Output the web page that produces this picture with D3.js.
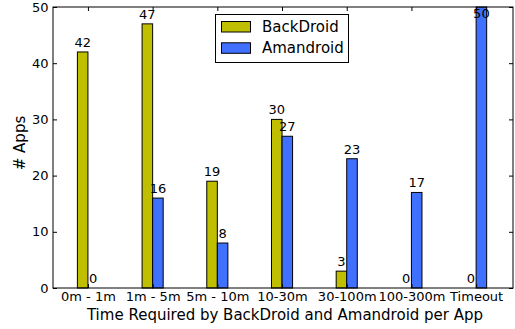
<!DOCTYPE html>
<html><head><meta charset="utf-8">
<script src="https://cdn.jsdelivr.net/npm/d3@7"></script>
<style>body{margin:0;background:#fff}text{font-family:"DejaVu Sans",sans-serif;fill:#000}</style>
</head><body><svg id="c" width="515" height="329"></svg>
<script>
const categories = ["0m - 1m","1m - 5m","5m - 10m","10-30m","30-100m","100-300m","Timeout"];
const backdroid = [42,47,19,30,3,0,0];
const amandroid = [0,16,8,27,23,17,50];
const yTicks = [0,10,20,30,40,50];
const seriesNames = ["BackDroid","Amandroid"];
const colors = ["#bfbf00","#4070ff"];

const svg = d3.select("#c");
const L=53,R=513,T=7,B=288;
const x = d3.scaleLinear().domain([-0.54,6.57]).range([L,R]);
const y = d3.scaleLinear().domain([0,50]).range([B,T]);
const w = 0.163;
const fs = 13, fsT = 15;

const g = svg.append("g");
[backdroid, amandroid].forEach((vals,si)=>{
  vals.forEach((v,i)=>{
    const x0 = si===0 ? x(i-w) : x(i);
    const x1 = si===0 ? x(i) : x(i+w);
    g.append("rect").attr("x",x0).attr("y",y(v)).attr("width",x1-x0).attr("height",B-y(v))
      .attr("fill",colors[si]).attr("stroke","#000").attr("stroke-width",1);
    const cx = (x0+x1)/2;
    const by = Math.max(y(v)-5, y(50)+11);
    g.append("text").attr("x",cx).attr("y",by).attr("text-anchor","middle").attr("font-size",fs).text(v);
  });
});

// frame
svg.append("rect").attr("x",L).attr("y",T).attr("width",R-L).attr("height",B-T).attr("fill","none").attr("stroke","#000").attr("stroke-width",1);

// ticks
const xa = d3.axisBottom(x).tickValues(d3.range(categories.length)).tickFormat(i=>categories[i]).tickSizeInner(-4).tickSizeOuter(0).tickPadding(4);
const xg = svg.append("g").attr("transform",`translate(0,${B})`).call(xa);
xg.select(".domain").remove();
xg.selectAll("text").attr("font-size",fs).attr("font-family","DejaVu Sans").attr("fill","#000");
const xt = d3.axisTop(x).tickValues(d3.range(categories.length)).tickFormat("").tickSizeInner(-4).tickSizeOuter(0);
const xtg = svg.append("g").attr("transform",`translate(0,${T})`).call(xt);
xtg.select(".domain").remove();

const ya = d3.axisLeft(y).tickValues(yTicks).tickSizeInner(-4).tickSizeOuter(0).tickPadding(4.5);
const yg = svg.append("g").attr("transform",`translate(${L},0)`).call(ya);
yg.select(".domain").remove();
yg.selectAll("text").attr("font-size",fs).attr("font-family","DejaVu Sans").attr("fill","#000");
const yr = d3.axisRight(y).tickValues(yTicks).tickFormat("").tickSizeInner(-4).tickSizeOuter(0);
const yrg = svg.append("g").attr("transform",`translate(${R},0)`).call(yr);
yrg.select(".domain").remove();

// titles
svg.append("text").attr("x",285).attr("y",320).attr("text-anchor","middle").attr("font-size",fsT).text("Time Required by BackDroid and Amandroid per App");
svg.append("text").attr("transform",`translate(25,143) rotate(-90)`).attr("text-anchor","middle").attr("font-size",fsT).text("# Apps");

// legend
const lg = svg.append("g");
lg.append("rect").attr("x",215.5).attr("y",14.5).attr("width",133).attr("height",48).attr("fill","#fff").attr("stroke","#000");
seriesNames.forEach((n,i)=>{
  const yy = 21.5 + i*21.3;
  lg.append("rect").attr("x",221.5).attr("y",yy).attr("width",29).attr("height",10.5).attr("fill",colors[i]).attr("stroke","#000");
  lg.append("text").attr("x",262).attr("y",yy+10.5).attr("font-size",fsT).text(n);
});
</script></body></html>
